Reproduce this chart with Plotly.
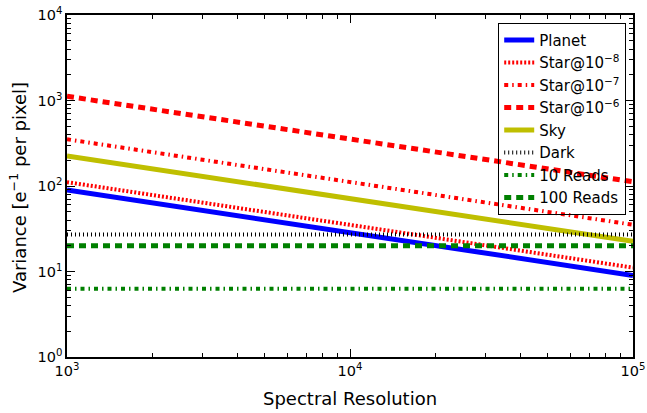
import plotly.graph_objects as go

R = [1e3, 1e5]
planet = [90, 9.0]
star8 = [111, 11.1]
star7 = [352, 35.2]
star6 = [1120, 112]
sky = [225, 22.5]
dark = [27, 27]
reads10 = [6.3, 6.3]
reads100 = [20, 20]

series = [
    ("Planet", planet, "#0000ff", 5, "solid"),
    ("Star@10<sup>−8</sup>", star8, "#ff0000", 4, "2px,2px"),
    ("Star@10<sup>−7</sup>", star7, "#ff0000", 4, "4px,4px,1.5px,4px"),
    ("Star@10<sup>−6</sup>", star6, "#ff0000", 5, "7px,5px"),
    ("Sky", sky, "#bfbf00", 5, "solid"),
    ("Dark", dark, "#000000", 4, "1px,3px"),
    ("10 Reads", reads10, "#008000", 4, "4px,4px,1.5px,4px"),
    ("100 Reads", reads100, "#008000", 5, "7px,5px"),
]

x_minor = [m * 10 ** e for e in (3, 4) for m in range(2, 10)]
y_minor = [m * 10 ** e for e in (0, 1, 2, 3) for m in range(2, 10)]

fig = go.Figure()
for name, y, c, w, d in series:
    fig.add_trace(go.Scatter(x=R, y=y, mode="lines", name=name,
                             line=dict(color=c, width=w, dash=d)))

tickfont = dict(family="DejaVu Sans", size=14.5, color="black")
titlefont = dict(family="DejaVu Sans", size=18, color="black")
fig.update_layout(
    width=647, height=413,
    margin=dict(l=67, r=14, t=15, b=56, autoexpand=False),
    paper_bgcolor="white", plot_bgcolor="white",
    font=dict(family="DejaVu Sans", color="black"),
    showlegend=True,
    legend=dict(x=0.988, y=0.977, xanchor="right", yanchor="top",
                bordercolor="black", borderwidth=1, bgcolor="rgba(0,0,0,0)",
                font=dict(size=15, family="DejaVu Sans"),
                itemwidth=30, tracegroupgap=0),
    annotations=[
        dict(text="Spectral Resolution", xref="paper", yref="paper",
             x=0.5, y=-(398 - 357) / 342, xanchor="center", yanchor="middle",
             showarrow=False, font=titlefont),
        dict(text="Variance [e<sup>−1</sup> per pixel]", xref="paper", yref="paper",
             x=-(67 - 18) / 566, y=(357 - 188) / 342, xanchor="center", yanchor="middle",
             textangle=-90, showarrow=False, font=titlefont),
    ],
)
fig.update_xaxes(
    type="log", range=[3, 5], automargin=False,
    tickmode="array", tickvals=[1e3, 1e4, 1e5],
    ticktext=["10<sup>3</sup>", "10<sup>4</sup>", "10<sup>5</sup>"],
    ticks="inside", ticklen=8, tickcolor="black",
    minor=dict(tickmode="array", tickvals=x_minor, ticks="inside", ticklen=4,
               tickcolor="black", showgrid=False),
    showline=True, linecolor="black", linewidth=1.5, mirror="allticks",
    showgrid=False, zeroline=False, tickfont=tickfont,
)
fig.update_yaxes(
    type="log", range=[0, 4], automargin=False,
    tickmode="array", tickvals=[1, 10, 100, 1000, 10000],
    ticktext=["10<sup>0</sup>", "10<sup>1</sup>", "10<sup>2</sup>", "10<sup>3</sup>", "10<sup>4</sup>"],
    ticks="inside", ticklen=8, tickcolor="black",
    minor=dict(tickmode="array", tickvals=y_minor, ticks="inside", ticklen=4,
               tickcolor="black", showgrid=False),
    showline=True, linecolor="black", linewidth=1.5, mirror="allticks",
    showgrid=False, zeroline=False, tickfont=tickfont,
)
fig.write_html("out.html", config={"displayModeBar": False},
               post_script="document.body.style.margin='0';document.body.style.overflow='hidden';")
